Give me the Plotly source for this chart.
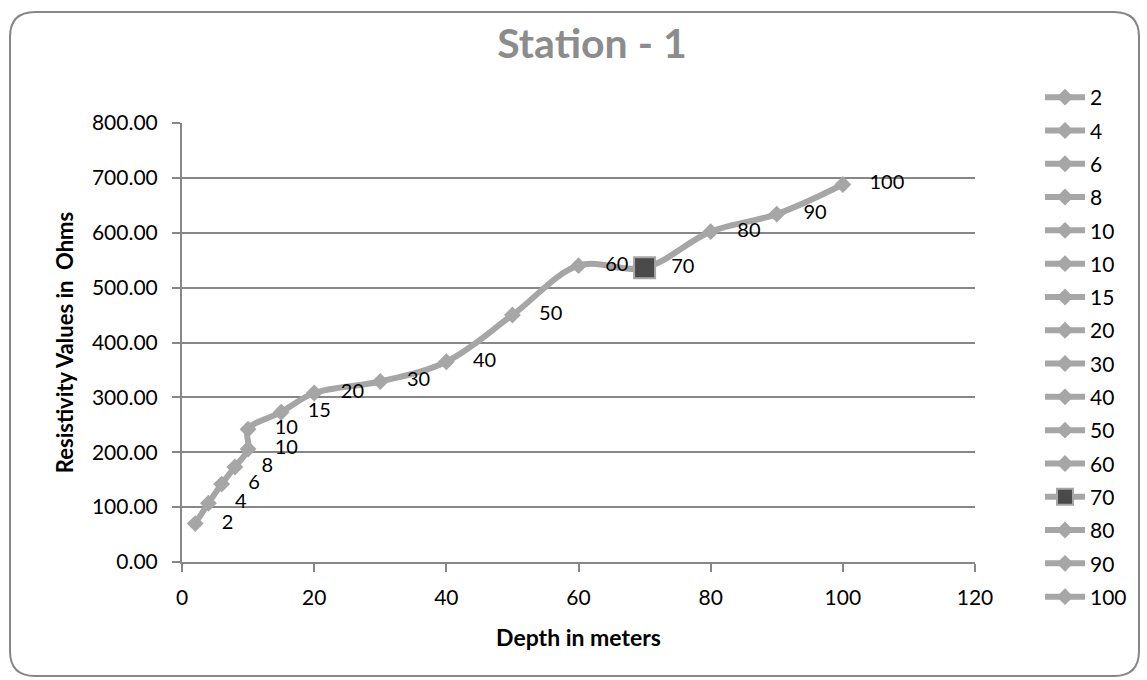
import plotly.graph_objects as go

# Station 1 sounding: depth (m) and resistivity (Ohms)
depth = [2, 4, 6, 8, 10, 10, 15, 20, 30, 40, 50, 60, 70, 80, 90, 100]
resistivity = [70, 107, 142, 173, 206, 242, 273, 308, 329, 365, 450, 540, 536, 602, 634, 688]
point_names = ["2", "4", "6", "8", "10", "10", "15", "20", "30", "40", "50", "60", "70", "80", "90", "100"]
highlight_name = "70"

x_ticks = [0, 20, 40, 60, 80, 100, 120]
y_ticks = [0, 100, 200, 300, 400, 500, 600, 700, 800]

FONT = "Lato"
LINE_GREY = "#a6a6a6"
AXIS_GREY = "#878787"
DARK = "#4a4a4a"

W, H = 1147, 680
ML, MR, MT, MB = 182, 172, 123, 118
PW, PH = W - ML - MR, H - MT - MB


def to_paper(x, y):
    return (x - ML) / PW, (H - MB - y) / PH


def rounded_box(x0, y0, x1, y1, r):
    pts = [
        ("M", [(x0 + r, y0)]),
        ("L", [(x1 - r, y0)]),
        ("Q", [(x1, y0), (x1, y0 + r)]),
        ("L", [(x1, y1 - r)]),
        ("Q", [(x1, y1), (x1 - r, y1)]),
        ("L", [(x0 + r, y1)]),
        ("Q", [(x0, y1), (x0, y1 - r)]),
        ("L", [(x0, y0 + r)]),
        ("Q", [(x0, y0), (x0 + r, y0)]),
    ]
    parts = []
    for cmd, coords in pts:
        s = " ".join("%.5f,%.5f" % to_paper(cx, cy) for cx, cy in coords)
        parts.append(cmd + s)
    return " ".join(parts) + " Z"


fig = go.Figure()

# smoothed connecting line
fig.add_trace(go.Scatter(
    x=depth, y=resistivity, mode="lines",
    line=dict(color=LINE_GREY, width=6, shape="spline", smoothing=1),
    showlegend=False, hoverinfo="skip",
))

# one legend entry per reading
for i, (d, r, name) in enumerate(zip(depth, resistivity, point_names)):
    if name == highlight_name:
        marker = dict(symbol="square", size=21, color=DARK, line=dict(color=LINE_GREY, width=2))
    else:
        marker = dict(symbol="diamond", size=13, color=LINE_GREY, line=dict(width=0))
    fig.add_trace(go.Scatter(
        x=[d], y=[r], mode="lines+markers", name=name,
        legendgroup="g%d" % i,
        line=dict(color=LINE_GREY, width=6),
        marker=marker,
    ))

# depth labels beside each point
fig.add_trace(go.Scatter(
    x=depth, y=resistivity, mode="markers+text",
    text=point_names, textposition="middle right",
    textfont=dict(family=FONT, size=20, color="#000000"),
    marker=dict(size=41, opacity=0),
    showlegend=False, hoverinfo="skip",
))

fig.update_layout(
    width=W, height=H, autosize=False,
    margin=dict(l=ML, r=MR, t=MT, b=MB, pad=0),
    paper_bgcolor="white", plot_bgcolor="white",
    font=dict(family=FONT, size=21, color="#000000"),
    title=dict(
        text="<b>Station - 1</b>", x=to_paper(592, 0)[0], xref="paper", xanchor="center",
        y=1 - 44 / H, yref="container", yanchor="middle",
        font=dict(family=FONT, size=41, color="#8c8c8c"),
    ),
    xaxis=dict(
        range=[0, 120], tickvals=x_ticks, ticktext=[str(v) for v in x_ticks],
        showgrid=False, zeroline=False,
        showline=True, linecolor=AXIS_GREY, linewidth=2,
        ticks="outside", ticklen=8, tickwidth=2, tickcolor=AXIS_GREY,
        ticklabelstandoff=8,
        tickfont=dict(family=FONT, size=21),
        title=dict(text="<b>Depth in meters</b>", font=dict(family=FONT, size=23), standoff=22),
    ),
    yaxis=dict(
        range=[0, 800], tickvals=y_ticks, ticktext=["%.2f" % v for v in y_ticks],
        showgrid=True, gridcolor=AXIS_GREY, gridwidth=2, zeroline=False,
        showline=True, linecolor=AXIS_GREY, linewidth=2,
        ticks="outside", ticklen=8, tickwidth=2, tickcolor=AXIS_GREY,
        ticklabelstandoff=10,
        tickfont=dict(family=FONT, size=21),
        title=dict(text="<b>Resistivity Values in\u00a0 Ohms</b>", font=dict(family=FONT, size=22), standoff=12),
    ),
    legend=dict(
        x=to_paper(1040, 0)[0], xanchor="left",
        y=to_paper(0, 77)[1], yanchor="top",
        font=dict(family=FONT, size=21),
        tracegroupgap=3, itemwidth=40,
        maxheight=640,
        bgcolor="rgba(0,0,0,0)",
    ),
    shapes=[dict(
        type="path", xref="paper", yref="paper",
        path=rounded_box(10, 12, 1139, 676, 25),
        line=dict(color="#868686", width=2), layer="below",
    )],
)

fig.write_html("out.html")
